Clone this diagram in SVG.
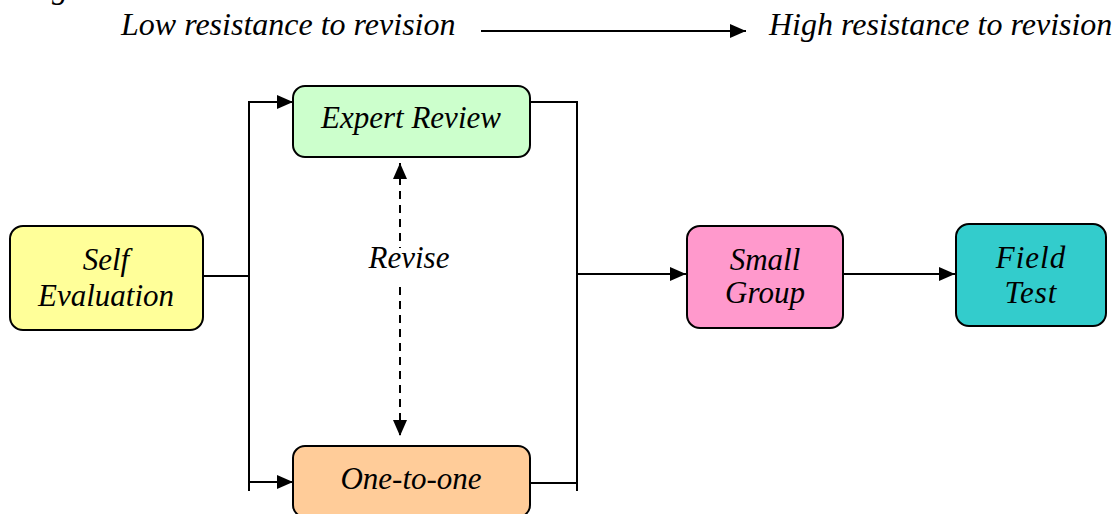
<svg xmlns="http://www.w3.org/2000/svg" width="1117" height="514" viewBox="0 0 1117 514">
<style>
.t{font-family:"Liberation Serif","Times New Roman",serif;font-style:italic;font-size:31px;fill:#000;text-anchor:middle}
.h{font-family:"Liberation Serif","Times New Roman",serif;font-style:italic;font-size:32px;fill:#000}
.box{stroke:#000;stroke-width:2}
.c{fill:none;stroke:#000;stroke-width:2}
.d{fill:none;stroke:#000;stroke-width:2;stroke-dasharray:8,6}
</style>
<defs>
<marker id="ah" markerWidth="16" markerHeight="14" refX="16" refY="7" orient="auto" markerUnits="userSpaceOnUse">
<path d="M0,0 L16,7 L0,14 Z" fill="#000"/>
</marker>
<marker id="ahs" markerWidth="16" markerHeight="14" refX="16" refY="7" orient="auto-start-reverse" markerUnits="userSpaceOnUse">
<path d="M0,0 L16,7 L0,14 Z" fill="#000"/>
</marker>
</defs>
<rect width="1117" height="514" fill="#fff"/>
<text class="h" x="52" y="-2">g</text>
<g id="header">
<text class="h" x="121" y="35">Low resistance to revision</text>
<text class="h" x="769" y="35">High resistance to revision</text>
</g>
<g id="connectors">
<line class="c" x1="481" y1="31" x2="746" y2="31" marker-end="url(#ah)"/>
<polyline class="c" points="203,276 249,276"/>
<line class="c" x1="249" y1="101" x2="249" y2="491"/>
<line class="c" x1="248" y1="102" x2="293" y2="102" marker-end="url(#ah)"/>
<line class="c" x1="248" y1="482" x2="293" y2="482" marker-end="url(#ah)"/>
<line class="c" x1="530" y1="102" x2="578" y2="102"/>
<line class="c" x1="530" y1="483" x2="578" y2="483"/>
<line class="c" x1="577" y1="101" x2="577" y2="491"/>
<line class="c" x1="577" y1="274" x2="686" y2="274" marker-end="url(#ah)"/>
<line class="c" x1="843" y1="274" x2="955" y2="274" marker-end="url(#ah)"/>
<line class="d" x1="400" y1="163" x2="400" y2="248" marker-start="url(#ahs)"/>
<line class="d" x1="400" y1="287" x2="400" y2="436" marker-end="url(#ah)"/>
</g>
<g id="revise-label">
<text class="t" x="409" y="268">Revise</text>
</g>
<g id="self-evaluation">
<rect class="box" x="10" y="226" width="193" height="104" rx="13" fill="#FFFF99"/>
<text class="t" x="106" y="270">Self</text>
<text class="t" x="106" y="306">Evaluation</text>
</g>
<g id="expert-review">
<rect class="box" x="293" y="86" width="237" height="71" rx="12" fill="#CCFFCC"/>
<text class="t" x="411" y="128">Expert Review</text>
</g>
<g id="one-to-one">
<rect class="box" x="293" y="446" width="237" height="71" rx="12" fill="#FFCC99"/>
<text class="t" x="411" y="489">One-to-one</text>
</g>
<g id="small-group">
<rect class="box" x="687" y="226" width="156" height="102" rx="13" fill="#FF99CC"/>
<text class="t" x="765" y="270">Small</text>
<text class="t" x="765" y="303">Group</text>
</g>
<g id="field-test">
<rect class="box" x="956" y="224" width="150" height="102" rx="13" fill="#33CCCC"/>
<text class="t" x="1031" y="268" letter-spacing="1">Field</text>
<text class="t" x="1031" y="303" letter-spacing="1">Test</text>
</g>
</svg>
